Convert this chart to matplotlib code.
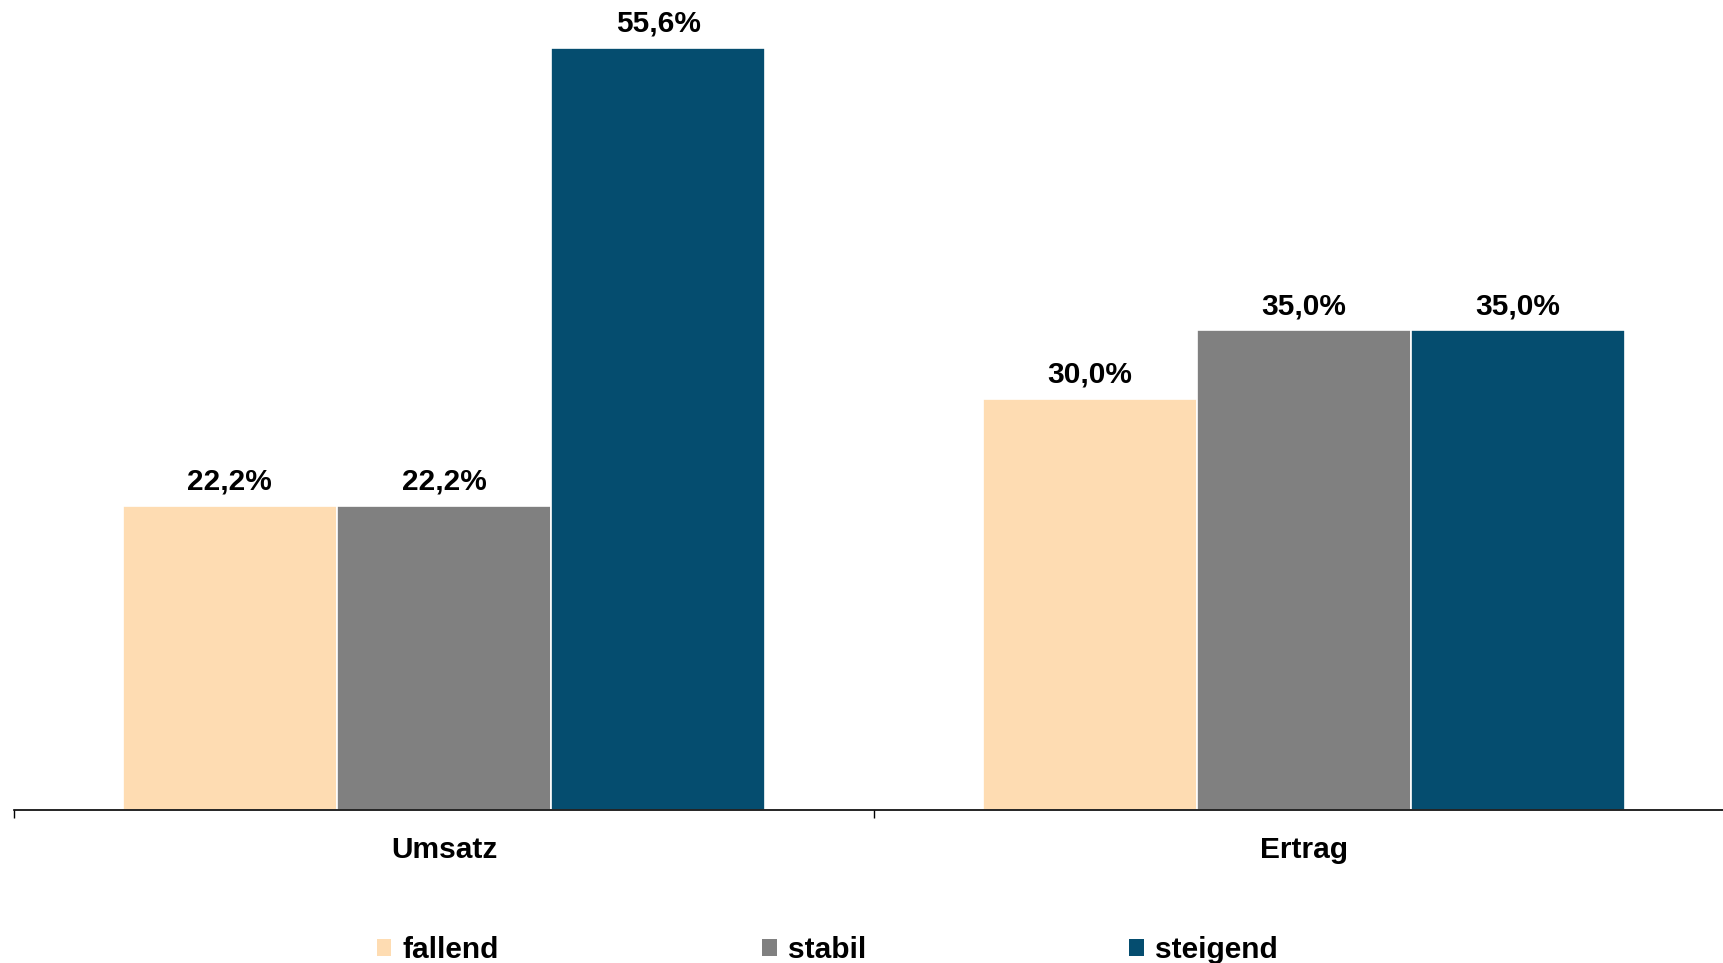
import matplotlib
matplotlib.use("Agg")
import matplotlib.pyplot as plt
import numpy as np
from matplotlib.patches import Patch

plt.rcParams['font.family'] = ['Liberation Sans', 'DejaVu Sans']
plt.rcParams['font.weight'] = 'bold'

categories = ["Umsatz", "Ertrag"]
series_names = ["fallend", "stabil", "steigend"]
fallend = [22.2, 30.0]
stabil = [22.2, 35.0]
steigend = [55.6, 35.0]
colors = ["#FEDCB2", "#808080", "#054D6F"]

FS = 21.5
W, H = 1724, 963
fig = plt.figure(figsize=(W / 100, H / 100), dpi=100)
ax = fig.add_axes([14 / W, 1 - 810 / H, (1734 - 14) / W, 809 / H])

x = np.arange(len(categories))
bw = 0.249
values = [fallend, stabil, steigend]
for i, (name, vals, col) in enumerate(zip(series_names, values, colors)):
    bars = ax.bar(x + (i - 1) * bw, vals, width=bw, color=col, edgecolor="white",
                  linewidth=1.2, label=name, zorder=2)
    ax.bar_label(bars, labels=[f"{v:.1f}%".replace(".", ",") for v in vals],
                 padding=7, fontsize=FS, fontweight="bold", color="black")

ax.set_xlim(-0.5, 1.5)
ax.set_ylim(0, 59)
for s in ["top", "right", "left"]:
    ax.spines[s].set_visible(False)
ax.spines["bottom"].set_linewidth(1.2)
ax.set_yticks([])
ax.set_xticks([-0.5, 0.5, 1.5])
ax.set_xticklabels([])
ax.tick_params(axis="x", which="major", length=6, width=1, direction="out")
ax.set_xticks(x, minor=True)
ax.set_xticklabels(categories, minor=True, fontsize=FS, fontweight="bold")
ax.tick_params(axis="x", which="minor", length=0, pad=19)

handles = [Patch(facecolor=c, edgecolor="none", label=n) for c, n in zip(colors, series_names)]
fig.legend(handles=handles, loc="center", bbox_to_anchor=(827 / W, 1 - 950 / H),
           ncol=3, frameon=False, handlelength=0.5, handleheight=0.47,
           handletextpad=0.37, columnspacing=8.8, borderpad=0,
           prop={"weight": "bold", "size": FS})

fig.savefig("out.png", dpi=100)
